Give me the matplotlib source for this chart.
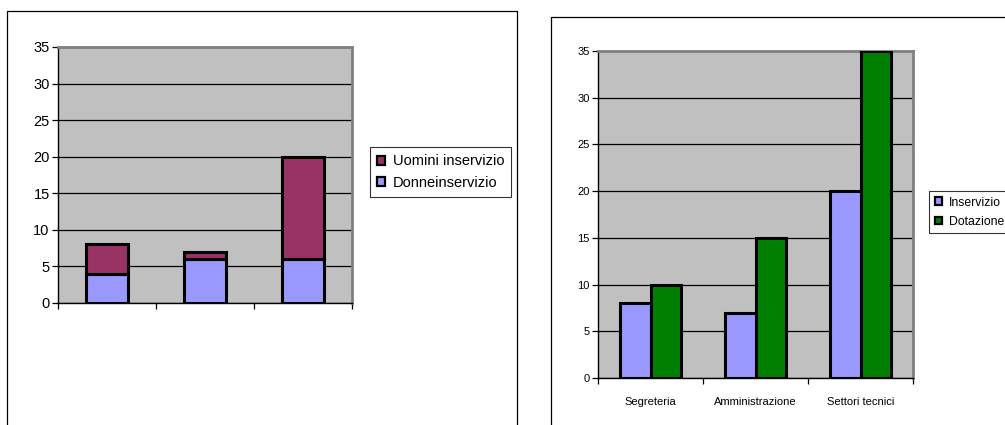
import numpy as np
import matplotlib
matplotlib.use("Agg")
import matplotlib.pyplot as plt
from matplotlib.patches import Patch
from matplotlib.lines import Line2D

plt.rcParams['font.family'] = ['Liberation Sans', 'DejaVu Sans']

# left chart: staff in service by gender (stacked)
donne = [4, 6, 6]
uomini = [4, 1, 14]
left_labels = ["Uomini inservizio", "Donneinservizio"]

# right chart: in service vs. allocation
categories = ["Segreteria", "Amministrazione", "Settori tecnici"]
in_servizio = [8, 7, 20]
dotazione = [10, 15, 35]
right_labels = ["Inservizio", "Dotazione"]

W, H = 1005, 425
fig = plt.figure(figsize=(W / 100, H / 100), dpi=100)

def px(x, y):
    return x / W, 1 - y / H

# outer frames of the two chart objects
for xs, ys in [([7, 7, 517, 517], [430, 11, 11, 430]), ([551, 551, 1010], [430, 17, 17])]:
    fx = [px(x, y)[0] for x, y in zip(xs, ys)]
    fy = [px(x, y)[1] for x, y in zip(xs, ys)]
    fig.add_artist(Line2D(fx, fy, color="black", lw=0.9))

PURPLE = "#9999FF"
MAROON = "#993366"
GREEN = "#008000"
BG = "#C0C0C0"

def style_axes(ax, fs):
    ax.set_facecolor(BG)
    ax.set_ylim(0, 35)
    ax.set_xlim(-0.5, 2.5)
    ax.set_yticks(np.arange(0, 36, 5))
    ax.yaxis.grid(True, color="black", lw=0.9)
    ax.set_axisbelow(True)
    for s in ["top", "right"]:
        ax.spines[s].set_color("#808080")
        ax.spines[s].set_linewidth(2)
    for s in ["left", "bottom"]:
        ax.spines[s].set_color("black")
        ax.spines[s].set_linewidth(1)
    ax.set_xticks([-0.5, 0.5, 1.5, 2.5])
    ax.set_xticklabels([])
    ax.tick_params(axis="both", direction="out", length=4, width=0.9, color="black", labelsize=fs)
    ax.tick_params(axis="y", pad=2)

# left chart
ax1 = fig.add_axes([58 / W, 1 - 303 / H, 294 / W, 256 / H])
style_axes(ax1, 10.5)
x = np.arange(3)
ax1.bar(x, donne, width=0.43, color=PURPLE, edgecolor="black", lw=2.2, zorder=3)
ax1.bar(x, uomini, bottom=donne, width=0.43, color=MAROON, edgecolor="black", lw=2.2, zorder=3)
h1 = [Patch(facecolor=MAROON, edgecolor="black", lw=1.6), Patch(facecolor=PURPLE, edgecolor="black", lw=1.6)]
leg1 = fig.legend(h1, left_labels, loc="upper left", bbox_to_anchor=px(370, 147),
                  borderaxespad=0, fancybox=False, edgecolor="black", fontsize=10.5,
                  handlelength=0.55, handleheight=0.6, handletextpad=0.5,
                  borderpad=0.5, labelspacing=0.5)
leg1.get_frame().set_linewidth(0.8)

# right chart
ax2 = fig.add_axes([598 / W, 1 - 378 / H, 315 / W, 327 / H])
style_axes(ax2, 8)
bw = 0.286
ax2.bar(x - bw / 2, in_servizio, width=bw, color=PURPLE, edgecolor="black", lw=2.2, zorder=3)
ax2.bar(x + bw / 2, dotazione, width=bw, color=GREEN, edgecolor="black", lw=2.2, zorder=3)
ax2.set_xticks(x, minor=True)
ax2.set_xticklabels(categories, minor=True)
ax2.tick_params(axis="x", which="minor", length=0, pad=14, labelsize=8)
h2 = [Patch(facecolor=PURPLE, edgecolor="black", lw=1.6), Patch(facecolor=GREEN, edgecolor="black", lw=1.6)]
leg2 = fig.legend(h2, right_labels, loc="upper left", bbox_to_anchor=px(929, 191),
                  borderaxespad=0, fancybox=False, edgecolor="black", fontsize=8.8,
                  handlelength=0.6, handleheight=0.6, handletextpad=0.6,
                  borderpad=0.45, labelspacing=0.6)
leg2.get_frame().set_linewidth(0.8)

fig.savefig("out.png", dpi=100, facecolor="white")
